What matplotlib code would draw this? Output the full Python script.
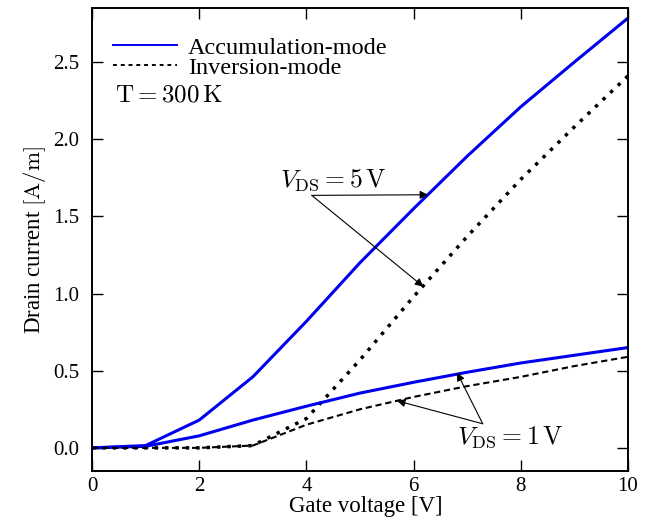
import numpy as np
import matplotlib.pyplot as plt
from matplotlib.lines import Line2D

plt.rcParams['font.family'] = ['Liberation Serif', 'DejaVu Serif']
plt.rcParams['mathtext.fontset'] = 'cm'

# gate voltage [V]
vg = [0, 1, 2, 3, 4, 5, 6, 7, 8, 9, 10]
# drain current [A/m]
acc_5v = [0.0, 0.015, 0.18, 0.46, 0.82, 1.20, 1.55, 1.89, 2.21, 2.50, 2.785]
inv_5v = [0.0, 0.0, 0.0, 0.015, 0.19, 0.57, 0.98, 1.37, 1.74, 2.08, 2.41]
acc_1v = [0.0, 0.01, 0.078, 0.18, 0.27, 0.355, 0.425, 0.49, 0.55, 0.60, 0.65]
inv_1v = [0.0, 0.0, 0.0, 0.015, 0.15, 0.25, 0.33, 0.40, 0.46, 0.53, 0.59]

blue = "#0000ee"

fig = plt.figure(figsize=(6.55, 5.2), dpi=100)
ax = fig.add_axes([0.1405, 0.0942, 0.8183, 0.8904])

ax.plot(vg, acc_5v, color=blue, lw=2.2)
ax.plot(vg, inv_5v, color="black", lw=2.5, linestyle=(0, (1, 2)))
ax.plot(vg, acc_1v, color=blue, lw=2.2)
ax.plot(vg, inv_1v, color="black", lw=1.5, linestyle=(0, (3, 1.8)))

ax.set_xlim(0, 10)
ax.set_ylim(-0.15, 2.85)
ax.set_xticks(np.arange(0, 11, 2))
yt = np.arange(0, 2.6, 0.5)
ax.set_yticks(yt)
ax.set_yticklabels(["%.1f" % t for t in yt])
ax.tick_params(direction="in", length=8, width=1, top=True, right=True,
               labelsize=15)
ax.tick_params(axis="x", pad=4)
ax.tick_params(axis="y", pad=9)
for s in ax.spines.values():
  s.set_linewidth(1.4)

ax.set_xlabel("Gate voltage [V]", fontsize=16.5, va="baseline")
ax.xaxis.set_label_coords(0.51, -0.089)
ax.set_ylabel(r"Drain current $[\mathrm{A/m}]$", fontsize=16.5, labelpad=4)

# legend handles drawn thinner than the curves, like the original
handles = [Line2D([], [], color=blue, lw=1.4),
           Line2D([], [], color="black", lw=1.4, linestyle=(0, (2, 2)))]
ax.legend(handles, ["Accumulation-mode", "Inversion-mode"],
          loc="upper left", frameon=False, fontsize=17.5,
          handlelength=2.63, handletextpad=0.45, labelspacing=-0.08,
          borderpad=0, borderaxespad=0, bbox_to_anchor=(0.039, 0.938))

ax.text(0.43, 2.247, r"$\mathrm{T} = 300\,\mathrm{K}$", fontsize=18, va="baseline")

arrow = dict(arrowstyle="-|>", color="black", lw=0.8, mutation_scale=12,
             shrinkA=0, shrinkB=0)

# V_DS = 5 V
ax.text(3.5, 1.69, r"$V_{\rm DS} = 5\,\mathrm{V}$", fontsize=18.5, va="baseline")
ax.annotate("", xy=(6.27, 1.64), xytext=(4.10, 1.636), arrowprops=arrow)
ax.annotate("", xy=(6.18, 1.045), xytext=(4.10, 1.636), arrowprops=arrow)

# V_DS = 1 V
ax.text(6.81, 0.03, r"$V_{\rm DS} = 1\,\mathrm{V}$", fontsize=18.5, va="baseline")
ax.annotate("", xy=(6.81, 0.487), xytext=(7.29, 0.156), arrowprops=arrow)
ax.annotate("", xy=(5.69, 0.305), xytext=(7.29, 0.156), arrowprops=arrow)

fig.savefig("out.png", dpi=100)
